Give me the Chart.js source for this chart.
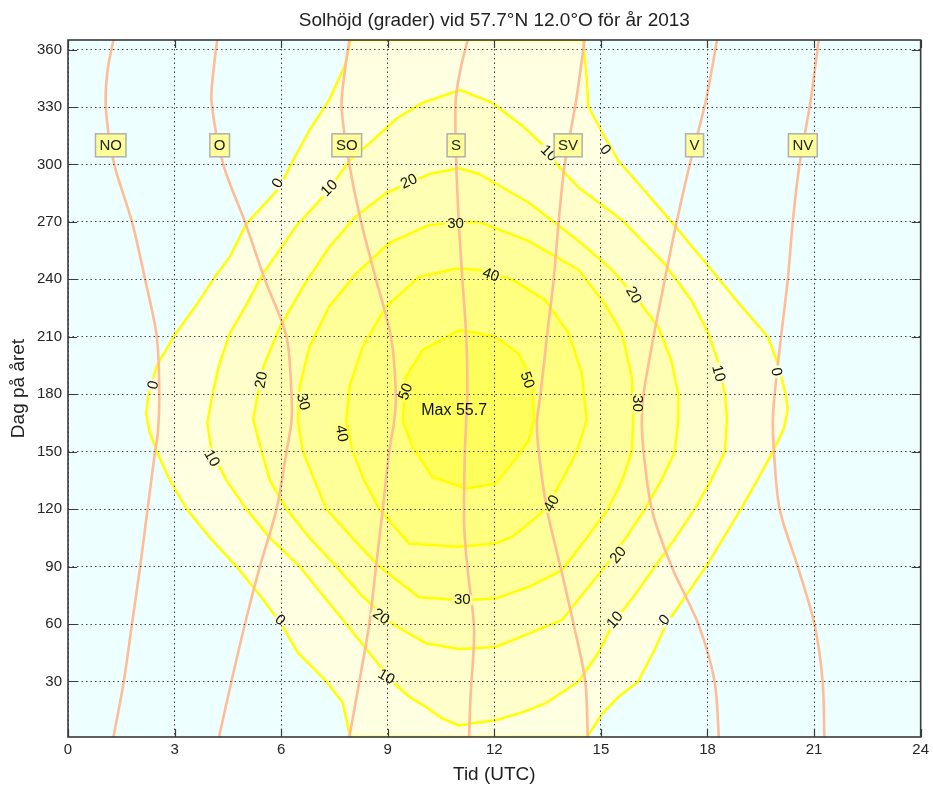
<!DOCTYPE html>
<html>
<head>
<meta charset="utf-8">
<script src="https://cdn.jsdelivr.net/npm/chart.js@4.4.1/dist/chart.umd.min.js"></script>
<style>
  html, body { margin: 0; padding: 0; background: #fff; }
  #wrap { width: 933px; height: 787px; }
</style>
</head>
<body>
<div id="wrap"><canvas id="chart"></canvas></div>
<script>
// Solhöjd vid 57.7N 12.0O, år 2013 — konturer avlästa ur bilden
// punkter är [timme (UTC), dag på året]

const levels = [0, 10, 20, 30, 40, 50];

const contour0 = [
  [7.95,365],[7.8,352],[7.36,334],[6.8,318],[6.33,302],[5.96,288],[5.02,269],[4.56,252],[4.09,240],
  [3.55,225],[2.97,210],[2.5,195],[2.27,180],[2.2,170],[2.3,160],[2.5,150],[2.87,135],[3.34,120],
  [4.0,105],[4.74,90],[5.4,75],[6.0,60],[6.47,45],[6.95,36],[7.27,30],[7.73,19],[7.92,3],[7.92,1],
  [14.62,1],[15.03,13],[15.5,22],[16.05,30],[16.47,45],[16.84,60],[17.4,75],[17.96,90],[18.45,105],
  [18.94,120],[19.4,135],[19.84,150],[20.15,162],[20.26,172],[20.2,180],[20.0,195],[19.7,210],
  [18.95,226],[18.02,247],[16.99,270],[15.96,292],[15.49,302],[15.0,318],[14.65,330],[14.6,345],
  [14.5,365],[7.95,365]
];
const contour10 = [
  [11.04,339],[9.96,332],[9.25,324],[8.6,313],[7.92,302],[7.27,285],[6.43,268],[5.49,243],[5.0,226],
  [4.56,212],[4.25,195],[4.08,181],[3.92,165],[4.04,150],[4.46,135],[5.02,120],[5.68,105],[6.52,90],
  [7.17,75],[7.83,60],[8.48,45],[9.13,30],[9.6,22],[10.07,16.7],[10.5,11],[11.0,7],[11.5,8.5],
  [12.03,9.7],[12.8,14],[13.44,18.6],[14.37,30],[14.93,45],[15.4,62],[15.95,75],[16.52,90],[17.1,105],
  [17.64,120],[18.1,135],[18.49,150],[18.55,167],[18.49,180],[18.3,197],[18.02,212],[17.55,229],
  [16.8,248],[15.59,271],[14.37,288],[13.81,299],[13.44,309],[12.8,320],[11.96,332],[11.04,339]
];
const contour20 = [
  [11.0,298],[10.17,295],[8.95,285],[8.11,273],[7.36,257],[6.61,236],[5.96,215],[5.49,194],[5.21,167],
  [5.45,150],[5.68,135],[6.15,120],[6.8,105],[7.55,90],[8.26,75],[9.13,60],[10.07,50],[11.0,47],
  [12.03,48],[12.5,51.5],[13.9,62],[14.46,75],[15.12,90],[15.7,105],[16.24,120],[16.7,135],[17.08,150],
  [17.18,167],[17.18,180],[16.99,197],[16.62,215],[16.05,229],[15.31,245],[14.37,260],[12.97,280],
  [11.57,295],[11.0,298]
];
const contour30 = [
  [11.1,270],[10.17,268.4],[9.04,259],[8.11,243],[7.36,226],[6.8,205],[6.52,184],[6.47,166],[6.61,150],
  [6.94,135],[7.27,120],[8.0,105],[8.76,90],[9.88,74],[11.1,72.4],[12.03,73.3],[12.97,79.4],[13.9,88],
  [14.6,105],[15.2,120],[15.6,135],[15.87,150],[15.91,167],[15.87,189],[15.59,212],[15.12,227],
  [14.37,245],[12.97,260],[11.57,270],[11.1,270]
];
const contour40 = [
  [10.91,245.7],[9.88,241.3],[8.95,225.7],[8.3,205],[7.92,184],[7.83,166.5],[8.01,150],[8.34,135],
  [8.76,120],[9.6,102],[11.0,100.3],[12.03,102],[12.5,105.5],[12.97,112.5],[13.44,120],[13.9,135],
  [14.32,150],[14.6,166.5],[14.46,191],[14.09,212],[13.44,229],[12.5,240],[11.57,245],[10.91,245.7]
];
const contour50 = [
  [11.0,213.5],[9.98,203],[9.51,189],[9.42,166],[9.7,152.5],[10.26,136.8],[11.2,130.8],[12.03,133.4],
  [12.5,143.8],[12.97,156],[13.12,166.5],[13.06,187],[12.69,201],[12.04,210],[11.57,211.8],[11.0,213.5]
];
const contours = [contour0, contour10, contour20, contour30, contour40, contour50];

// azimutlinjer
const azimuthNames = ['NO', 'O', 'SO', 'S', 'SV', 'V', 'NV'];
const azNO = [[1.28,1],[1.57,30],[1.8,60],[2.03,90],[2.24,120],[2.45,150],[2.53,160],[2.57,180],[2.5,210],
  [2.17,240],[1.8,270],[1.33,298],[1.15,315],[1.06,333],[1.12,350],[1.28,365]];
const azO = [[4.25,1],[4.6,30],[4.98,60],[5.4,90],[5.87,120],[6.15,150],[6.29,166],[6.29,180],[6.15,210],
  [5.54,240],[4.98,270],[4.37,300],[4.04,333],[4.1,350],[4.2,365]];
const azSO = [[7.92,1],[8.2,30],[8.48,60],[8.67,90],[8.86,120],[9.04,150],[9.18,166],[9.23,180],[9.09,210],
  [8.67,240],[8.25,270],[7.92,300],[7.7,330],[7.8,350],[7.92,365]];
const azS = [[11.29,1],[11.33,22],[11.43,57],[11.24,90],[11.15,112],[11.17,150],[11.21,166],[11.24,180],
  [11.21,210],[11.1,240],[11.0,270],[10.93,300],[10.91,333],[11.05,350],[11.25,365]];
const azSV = [[14.63,1],[14.56,30],[14.23,60],[13.86,90],[13.48,120],[13.25,150],[13.2,166],[13.3,180],
  [13.48,210],[13.67,240],[13.81,270],[13.98,300],[14.3,333],[14.54,365]];
const azV = [[18.32,1],[18.2,30],[17.74,60],[16.99,90],[16.43,120],[16.2,150],[16.15,166],[16.2,180],
  [16.48,210],[16.8,240],[17.13,270],[17.5,300],[17.95,333],[18.27,365]];
const azNV = [[21.29,1],[21.24,30],[21.01,60],[20.54,90],[20.03,120],[19.87,150],[19.84,166],[19.89,180],
  [20.07,210],[20.26,240],[20.4,270],[20.59,300],[20.9,333],[21.13,365]];
const azimuths = [azNO, azO, azSO, azS, azSV, azV, azNV];
const azimuthLabelDay = 310;

// konturetiketter: [text, timme, dag, vinkel]
const contourLabels = [
  ['0', 5.91, 290.1, -60], ['10', 7.36, 287.5, -45], ['20', 9.6, 291, -25], ['30', 10.91, 269.2, 0],
  ['40', 11.9, 242.2, 20], ['50', 9.51, 181.3, -70], ['0', 2.41, 184.8, -75], ['20', 5.45, 187.4, -80],
  ['30', 6.61, 176, 75], ['40', 7.69, 159.5, 80], ['10', 4.04, 146.5, 60], ['0', 5.96, 62, 40],
  ['20', 8.81, 63.7, 35], ['10', 8.95, 32.3, 30], ['30', 11.1, 72.4, 0], ['40', 13.62, 122.9, -60],
  ['20', 15.49, 95.9, -50], ['10', 15.4, 62, -50], ['0', 16.8, 62, -50], ['10', 13.53, 305.8, 45],
  ['0', 15.12, 307.5, 50], ['20', 15.91, 231.8, 60], ['30', 16.01, 175.2, 90], ['10', 18.3, 190.9, 75],
  ['0', 19.93, 191.7, 80], ['50', 12.92, 187.4, 70]
];
const maxValue = 55.7;
const maxAt = [10.87, 171.6];

const xTicks = [0, 3, 6, 9, 12, 15, 18, 21, 24];
const yTicks = [30, 60, 90, 120, 150, 180, 210, 240, 270, 300, 330, 360];

// färger
const bandColors = ['#FFFFE1', '#FFFFCB', '#FFFFB3', '#FFFF99', '#FFFF80', '#FFFF5C'];
const FONT = '"Liberation Sans", Arial, sans-serif';

function toXY(pts) { return pts.map(p => ({ x: p[0], y: p[1] })); }

function hourAtDay(pts, day) {
  for (let i = 1; i < pts.length; i++) {
    const a = pts[i - 1], b = pts[i];
    if (day >= a[1] && day <= b[1]) {
      const t = (day - a[1]) / (b[1] - a[1]);
      return a[0] + t * (b[0] - a[0]);
    }
  }
  return pts[0][0];
}

const datasets = [];
contours.forEach((c, i) => {
  datasets.push({
    label: 'Solhöjd ' + levels[i],
    data: toXY(c),
    showLine: true,
    pointRadius: 0,
    borderColor: '#FFFF00',
    borderWidth: 2.5,
    borderJoinStyle: 'round',
    backgroundColor: bandColors[i],
    fill: 'shape',
    tension: 0,
    clip: 0,
    order: 20 - i,
  });
});
azimuths.forEach((a, i) => {
  datasets.push({
    label: azimuthNames[i],
    data: toXY(a),
    showLine: true,
    pointRadius: 0,
    borderColor: '#FFBC96',
    borderWidth: 2.6,
    fill: false,
    tension: 0.3,
    clip: 0,
    order: 1,
  });
});

const bgPlugin = {
  id: 'bg',
  beforeDraw(chart) {
    const { ctx, chartArea: a } = chart;
    ctx.save();
    ctx.fillStyle = '#EDFFFF';
    ctx.fillRect(a.left, a.top, a.right - a.left, a.bottom - a.top);
    ctx.restore();
  }
};

// luckor i konturlinjerna under etiketterna ritas innan azimutlinjerna
const gapPlugin = {
  id: 'gaps',
  beforeDatasetDraw(chart, args) {
    if (args.meta._dataset.order !== 1 || args.index !== contours.length) return;
    const { ctx, scales: { x, y } } = chart;
    ctx.save();
    ctx.font = '15px ' + FONT;
    contourLabels.forEach(([t, h, d, ang]) => {
      const li = levels.indexOf(Number(t));
      const w = ctx.measureText(t).width + 4;
      ctx.save();
      ctx.translate(x.getPixelForValue(h), y.getPixelForValue(d));
      ctx.rotate(ang * Math.PI / 180);
      ctx.fillStyle = bandColors[li];
      ctx.fillRect(-w / 2, -5, w, 10);
      ctx.restore();
    });
    ctx.restore();
  }
};

const overlayPlugin = {
  id: 'overlay',
  afterDraw(chart) {
    const { ctx, chartArea: a, scales: { x, y } } = chart;
    ctx.save();

    // konturetiketter
    ctx.fillStyle = '#111';
    ctx.font = '15px ' + FONT;
    ctx.textAlign = 'center';
    ctx.textBaseline = 'middle';
    contourLabels.forEach(([t, h, d, ang]) => {
      ctx.save();
      ctx.translate(x.getPixelForValue(h), y.getPixelForValue(d));
      ctx.rotate(ang * Math.PI / 180);
      ctx.fillText(t, 0, 0);
      ctx.restore();
    });
    ctx.font = '16px ' + FONT;
    ctx.fillText('Max ' + maxValue.toFixed(1), x.getPixelForValue(maxAt[0]), y.getPixelForValue(maxAt[1]));

    // azimutetiketter
    ctx.font = '15px ' + FONT;
    azimuths.forEach((pts, i) => {
      const px = x.getPixelForValue(hourAtDay(pts, azimuthLabelDay));
      const py = y.getPixelForValue(azimuthLabelDay);
      const w = ctx.measureText(azimuthNames[i]).width + 8;
      const hgt = 23;
      ctx.fillStyle = '#FFFF99';
      ctx.fillRect(px - w / 2, py - hgt / 2, w, hgt);
      ctx.strokeStyle = '#AFAFAF';
      ctx.lineWidth = 1.5;
      ctx.strokeRect(px - w / 2, py - hgt / 2, w, hgt);
      ctx.fillStyle = '#222';
      ctx.fillText(azimuthNames[i], px, py + 1);
    });

    // ram och inåtriktade tickmarkeringar
    ctx.strokeStyle = '#3A3A3A';
    ctx.lineWidth = 1.2;
    ctx.beginPath();
    xTicks.forEach(v => {
      const px = Math.round(x.getPixelForValue(v)) + 0.5;
      ctx.moveTo(px, a.bottom); ctx.lineTo(px, a.bottom - 8);
      ctx.moveTo(px, a.top); ctx.lineTo(px, a.top + 8);
    });
    yTicks.forEach(v => {
      const py = Math.round(y.getPixelForValue(v)) + 0.5;
      ctx.moveTo(a.left, py); ctx.lineTo(a.left + 9, py);
      ctx.moveTo(a.right, py); ctx.lineTo(a.right - 9, py);
    });
    ctx.stroke();
    ctx.lineWidth = 1.6;
    ctx.strokeRect(a.left, a.top, a.right - a.left, a.bottom - a.top);
    ctx.restore();
  }
};

new Chart(document.getElementById('chart'), {
  type: 'scatter',
  data: { datasets },
  options: {
    responsive: true,
    maintainAspectRatio: false,
    devicePixelRatio: 1,
    animation: false,
    events: [],
    layout: { padding: { left: 0, right: 10, top: 0, bottom: 0 } },
    plugins: {
      legend: { display: false },
      tooltip: { enabled: false },
      title: {
        display: true,
        text: 'Solhöjd (grader) vid 57.7°N 12.0°O för år 2013',
        color: '#222',
        font: { family: FONT, size: 19, weight: 'normal' },
        padding: { top: 9, bottom: 8.2 },
        fullSize: false,
      },
    },
    scales: {
      x: {
        type: 'linear',
        min: 0,
        max: 24,
        afterBuildTicks: s => { s.ticks = xTicks.map(v => ({ value: v })); },
        afterFit: s => { s.height = 50; },
        ticks: { color: '#262626', font: { family: FONT, size: 15 }, padding: 4, maxRotation: 0 },
        grid: { color: '#444', lineWidth: 1, drawTicks: false, z: 1 },
        border: { display: false, dash: [1.5, 3] },
        title: {
          display: true, text: 'Tid (UTC)', color: '#222',
          font: { family: FONT, size: 19 }, padding: { top: 0, bottom: 1 },
        },
      },
      y: {
        type: 'linear',
        min: 1,
        max: 365,
        afterBuildTicks: s => { s.ticks = yTicks.map(v => ({ value: v })); },
        afterFit: s => { s.width = 68; },
        ticks: { color: '#262626', font: { family: FONT, size: 15 }, padding: 6 },
        grid: { color: '#444', lineWidth: 1, drawTicks: false, z: 1 },
        border: { display: false, dash: [1.5, 3] },
        title: {
          display: true, text: 'Dag på året', color: '#222',
          font: { family: FONT, size: 19 }, padding: { top: 7, bottom: 0 },
        },
      },
    },
  },
  plugins: [bgPlugin, gapPlugin, overlayPlugin],
});
</script>
</body>
</html>
